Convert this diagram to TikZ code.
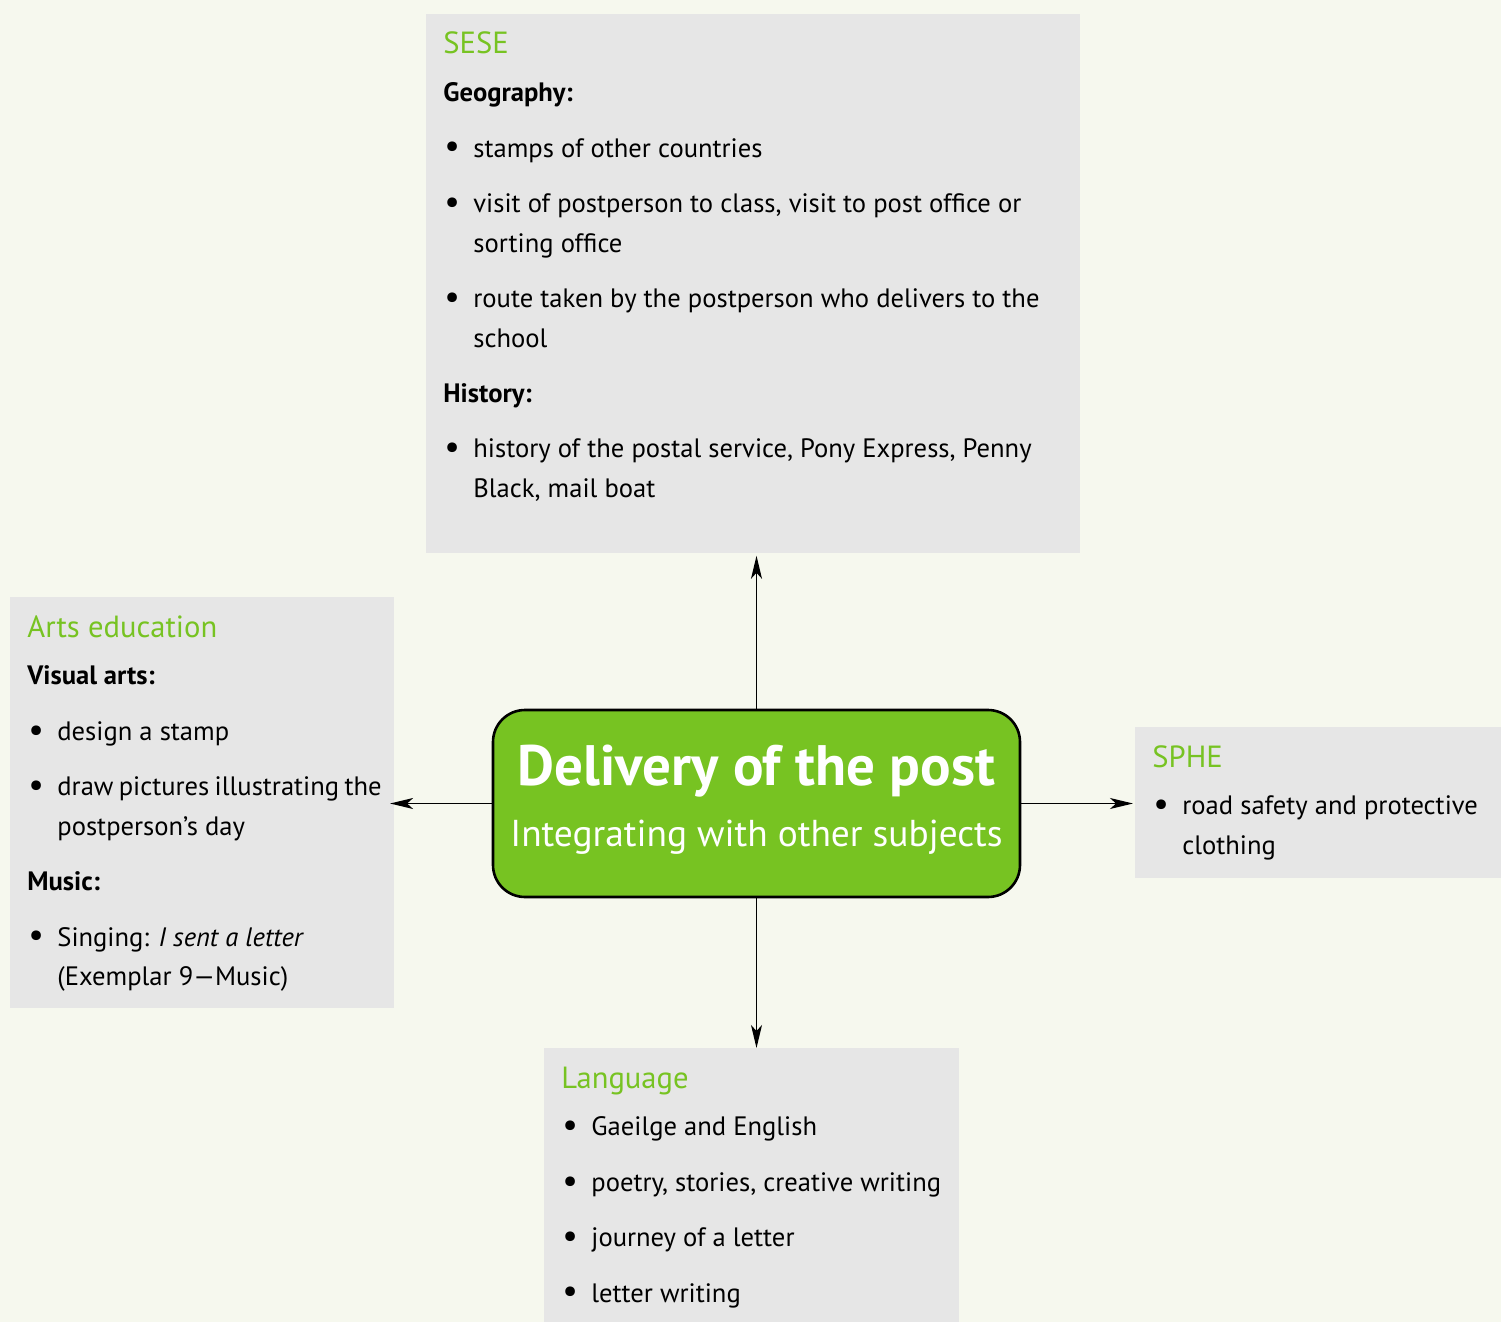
\documentclass[tikz,border=0pt]{standalone}
\usepackage{fontspec}
\setmainfont{PT Sans}
\usetikzlibrary{arrows.meta}

\definecolor{bgcol}{RGB}{246,248,238}
\definecolor{boxgray}{RGB}{230,230,230}
\definecolor{postgreen}{RGB}{119,195,34}

\newcommand{\bodyfont}{\fontsize{13.3}{19.8}\selectfont}
\newcommand{\hd}[1]{\rule{0pt}{19.8pt}{\fontsize{15.3}{19.8}\selectfont\color{postgreen}#1}\par\vspace{4.1pt}}
\newcommand{\sub}[1]{\textbf{#1}\par\vspace{7.9pt}}
\newcommand{\itm}[1]{\rightskip=0pt plus 1fil minus 12pt\hangindent=15pt\hangafter=1\noindent\makebox[15pt][l]{\hspace{0.5pt}\raisebox{-0.4pt}{\scalebox{1.3}{\textbullet}}}#1\par\vspace{7.9pt}}

\begin{document}
\begin{tikzpicture}[x=0.5pt,y=0.5pt,
	subj/.style={fill=boxgray, anchor=north west, inner xsep=8.5pt, inner ysep=0pt, font=\bodyfont},
	hub/.style={draw, fill=postgreen, line width=1.3pt, rounded corners=16pt, minimum width=263.5pt, minimum height=93.5pt, align=center, text=white, text depth=8pt, font=\fontsize{18.7}{30.4}\selectfont},
	link/.style={-{Stealth[length=11.5pt,width=5.5pt,inset=3pt]}, line width=0.65pt}]
	\useasboundingbox (0,0) rectangle (1501,-1322);
	\fill[bgcol] (0,0) rectangle (1501,-1322);

	% subject boxes
	\node[subj] (sese) at (426,-14) {\parbox[t][269.5pt][t]{310pt}{%
		\hd{SESE}
		\sub{Geography:}
		\itm{stamps of other countries}
		\itm{visit of postperson to class, visit to post office or\\sorting office}
		\itm{route taken by the postperson who delivers to the\\school}
		\sub{History:}
		\itm{history of the postal service, Pony Express, Penny\\Black, mail boat}}};
	\node[subj] (arts) at (10,-597) {\parbox[t][205.5pt][t]{175pt}{%
		\hd{Arts education}
		\sub{Visual arts:}
		\itm{design a stamp}
		\itm{\mbox{\spaceskip=0.2em\relax draw pictures illustrating the}\\postperson’s day}
		\sub{Music:}
		\itm{Singing: \textit{I sent a letter}\\(Exemplar 9—Music)}}};
	\node[subj] (sphe) at (1135,-727) {\parbox[t][75.5pt][t]{175pt}{%
		\hd{SPHE}
		\itm{road safety and protective\\clothing}}};
	\node[subj] (lang) at (544,-1048) {\parbox[t][150pt][t]{190.5pt}{%
		\hd{Language}
		\itm{Gaeilge and English}
		\itm{poetry, stories, creative writing}
		\itm{journey of a letter}
		\itm{letter writing}}};

	% centre
	\node[hub] (hub) at (756.5,-803.5) {{\fontsize{28.5}{30.4}\selectfont\bfseries Delivery of the post}\\Integrating with other subjects};

	\draw[link, shorten >=1pt] (hub.north) -- (hub.north |- sese.south);
	\draw[link] (hub.south) -- (hub.south |- lang.north);
	\draw[link, shorten >=-2.35pt] (hub.west) -- (hub.west -| arts.east);
	\draw[link, shorten >=1pt] (hub.east) -- (hub.east -| sphe.west);
\end{tikzpicture}
\end{document}
